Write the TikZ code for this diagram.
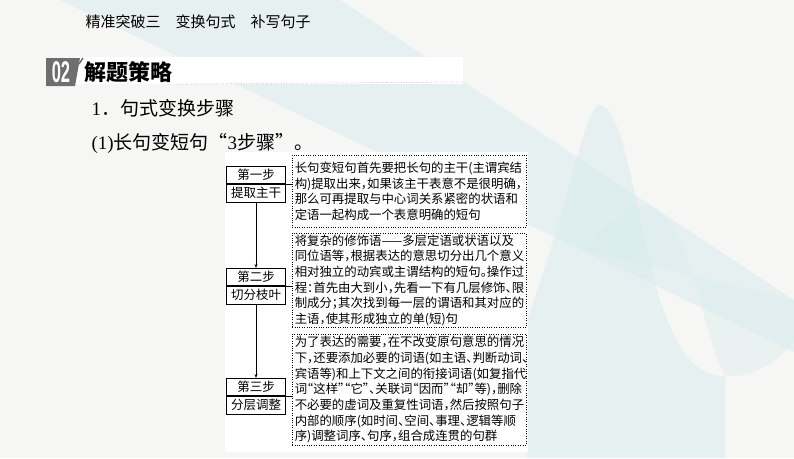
\documentclass[tikz,border=0pt]{standalone}
\usepackage{fontspec}
\setmainfont{Liberation Serif}
\setsansfont{Liberation Sans}
\newfontfamily\cjk[RawFeature={+halt}]{Noto Sans CJK SC}
\newfontfamily\cjkwide{Noto Sans CJK SC}
\usetikzlibrary{positioning,arrows.meta}
\definecolor{bgGray}{HTML}{F6F6F4}
\definecolor{bgTeal}{HTML}{D8ECEE}
\definecolor{badgeGray}{HTML}{6E6E6E}
\def \lineSkip {15.7pt}
\def \partHeight {17.5pt}

\begin{document}
\begin{tikzpicture}[x=1pt,y=-1pt,
    steppart/.style={draw, line width=0.6pt, minimum width=59pt, minimum height=\partHeight,
      inner sep=0pt, font=\cjkwide\fontsize{12.5}{14}\selectfont},
    notebox/.style={draw, line width=0.5pt, dash pattern=on 1pt off 1.4pt, anchor=north west,
      text width=229pt, inner xsep=2.5pt, inner ysep=1pt, align=left,
      font=\cjk\fontsize{12.4}{\lineSkip}\selectfont},
    link/.style={line width=0.6pt}]
  \useasboundingbox (0,0) rectangle (794,458);
  % background
  \fill[bgGray] (0,0) rectangle (794,458);
  \fill[bgTeal, opacity=.5] (60,0) -- (340,0) -- (794,300) -- (794,352) -- cycle;
  \fill[bgTeal, opacity=.5] (527,320) .. controls (570,200) and (585,105) .. (600,105)
    .. controls (625,105) and (640,240) .. (660,300)
    .. controls (680,360) and (700,376) .. (725,376) -- (725,458) -- (527,458) -- cycle;
  \fill[bgTeal, opacity=.4] (585,250) .. controls (615,215) and (630,205) .. (645,205)
    .. controls (690,210) and (700,330) .. (725,376)
    .. controls (755,378) and (780,360) .. (794,340) -- (794,300) -- cycle;
  \fill[white] (75,57) rectangle (463,84);
  \fill[white] (225,152) rectangle (528,452);

  % heading
  \node[anchor=west, font=\cjkwide\fontsize{15}{17}\selectfont] (header) at (82,22)
    {精准突破三　变换句式　补写句子};
  \fill[badgeGray] (46,58) -- (80,58) -- (75,86) -- (46,86) -- cycle;
  \node[text=white, font=\sffamily\bfseries\fontsize{30}{30}\selectfont, inner sep=0pt] (badge) at (61,72)
    {\scalebox{0.55}[1]{02}};
  \draw[badgeGray, line width=1.4pt] (83,58) -- (79,64);
  \node[anchor=west, font=\cjkwide\bfseries\fontsize{22}{24}\selectfont] (title) at (81,72) {解题策略};
  \draw[gray, dotted, line width=0.5pt] (title.south east) ++(0,-2) -- (463,82);
  \node[anchor=west, font=\cjkwide\fontsize{19}{21}\selectfont] (item) at (88,108)
    {{\rmfamily 1}．句式变换步骤};
  \node[anchor=west, font=\cjkwide\fontsize{19}{21}\selectfont] (sub) at (88,143)
    {{\rmfamily (1)}长句变短句“{\rmfamily 3}步骤”。};

  % steps
  \node[steppart] (s1a) at (256,175) {第一步};
  \node[steppart, below=0pt of s1a] (s1b) {提取主干};
  \node[steppart] (s2a) at (256,277) {第二步};
  \node[steppart, below=0pt of s2a] (s2b) {切分枝叶};
  \node[steppart] (s3a) at (256,387) {第三步};
  \node[steppart, below=0pt of s3a] (s3b) {分层调整};

  % notes
  \node[notebox, minimum height=72pt] (d1) at (292,155)
    {长句变短句首先要把长句的主干(主谓宾结\\
     构)提取出来，如果该主干表意不是很明确，\\
     那么可再提取与中心词关系紧密的状语和\\
     定语一起构成一个表意明确的短句};
  \node[notebox, minimum height=94pt] (d2) at (292,233)
    {将复杂的修饰语——多层定语或状语以及\\
     同位语等，根据表达的意思切分出几个意义\\
     相对独立的动宾或主谓结构的短句。操作过\\
     程：首先由大到小，先看一下有几层修饰、限\\
     制成分；其次找到每一层的谓语和其对应的\\
     主语，使其形成独立的单(短)句};
  \node[notebox, minimum height=111pt] (d3) at (292,334)
    {为了表达的需要，在不改变原句意思的情况\\
     下，还要添加必要的词语(如主语、判断动词、\\
     宾语等)和上下文之间的衔接词语(如复指代\\
     词“这样”“它”、关联词“因而”“却”等)，删除\\
     不必要的虚词及重复性词语，然后按照句子\\
     内部的顺序(如时间、空间、事理、逻辑等顺\\
     序)调整词序、句序，组合成连贯的句群};

  % connectors
  \draw[link, -{Stealth[length=4pt, width=3pt]}] (s1b) -- (s2a);
  \draw[link, -{Stealth[length=4pt, width=3pt]}] (s2b) -- (s3a);
  \draw[link] (s1a.south east) -- (s1a.south east -| d1.west);
  \draw[link] (s2a.south east) -- (s2a.south east -| d2.west);
  \draw[link] (s3a.south east) -- (s3a.south east -| d3.west);
\end{tikzpicture}
\end{document}
